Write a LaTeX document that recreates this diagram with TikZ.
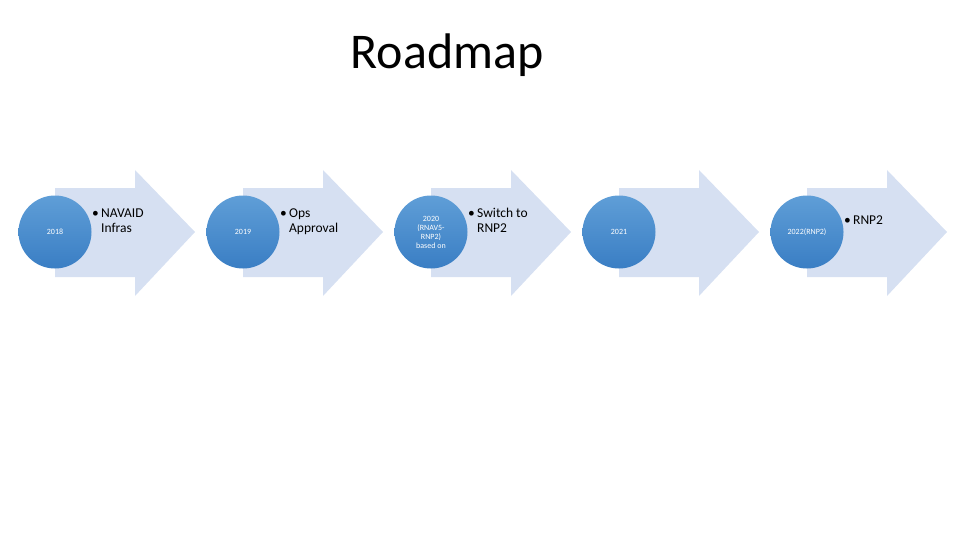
\documentclass[tikz,border=0pt]{standalone}
\usepackage{fontspec}
\setmainfont{Carlito}
\begin{document}
\begin{tikzpicture}[x=1pt,y=-1pt,
  arr/.style={fill={rgb,255:red,214;green,224;blue,242}, draw=none},
  yr/.style={circle, minimum size=73pt, inner sep=1pt, align=center, text=white,
    top color={rgb,255:red,95;green,158;blue,215}, bottom color={rgb,255:red,58;green,126;blue,196},
    font=\fontsize{8}{9}\selectfont},
  bul/.style={anchor=north west, inner sep=0pt, font=\fontsize{13.5}{15}\selectfont}]
\useasboundingbox (0,0) rectangle (960,540);
\node[font=\fontsize{50}{56}\selectfont] (title) at (447,55) {Roadmap};
\foreach \i/\yt/\bx in {0/2018/,1/2019/,2/{2020\\(RNAV5-\\RNP2)\\based on}/,3/2021/,4/2022(RNP2)/}{
  \pgfmathsetmacro{\ox}{55+188*\i}
  \fill[arr] (\ox,188) -- (\ox+80,188) -- (\ox+80,170) -- (\ox+140,232) -- (\ox+80,296) -- (\ox+80,277) -- (\ox,277) -- cycle;
  \node[yr] (c\i) at (\ox,232) {\yt};
}
\node[bul] (t0) at (92,207) {\begin{tabular}{@{}l@{\,}l@{}}\textbullet & NAVAID\\ & Infras\end{tabular}};
\node[bul] (t1) at (280,207) {\begin{tabular}{@{}l@{\,}l@{}}\textbullet & Ops\\ & Approval\end{tabular}};
\node[bul] (t2) at (468,207) {\begin{tabular}{@{}l@{\,}l@{}}\textbullet & Switch to\\ & RNP2\end{tabular}};
\node[bul] (t4) at (844,214) {\begin{tabular}{@{}l@{\,}l@{}}\textbullet & RNP2\end{tabular}};
\end{tikzpicture}
\end{document}
